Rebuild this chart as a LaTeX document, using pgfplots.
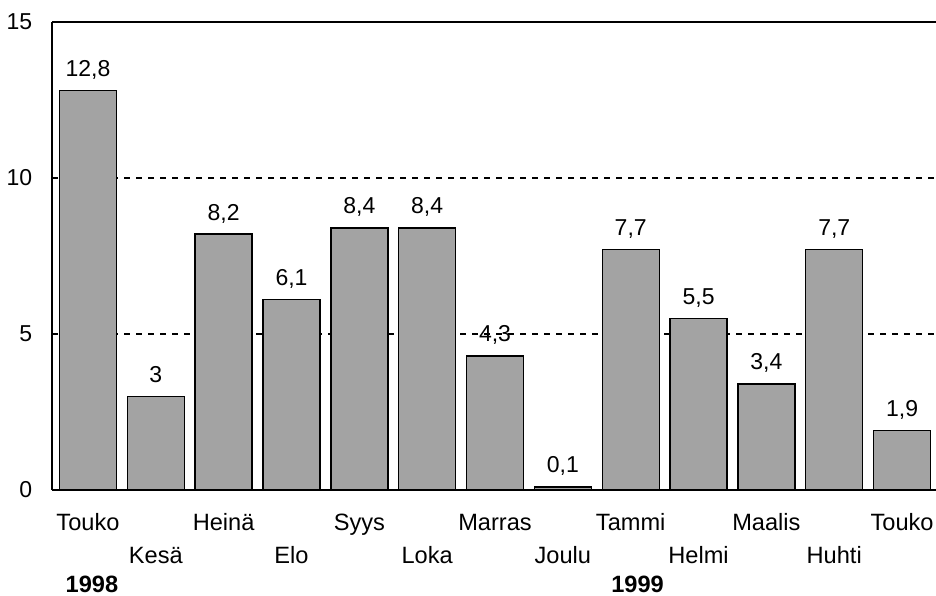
\documentclass[border=0pt]{standalone}
\usepackage{pgfplots}
\pgfplotsset{compat=1.18}
\usepackage{fontspec}
\setmainfont{Liberation Sans}
\usetikzlibrary{calc}
\definecolor{barfill}{HTML}{A3A3A3}
\begin{document}
\begin{tikzpicture}
\fontsize{11}{13}\selectfont
\begin{axis}[
  scale only axis,
  width=442pt, height=234pt,
  xmin=-0.53, xmax=12.5,
  ymin=0, ymax=15,
  ytick={0,5,10,15},
  xtick={0,...,12},
  xticklabels={Touko,\raisebox{-16.5pt}{Kesä},Heinä,\raisebox{-16.5pt}{Elo},Syys,\raisebox{-16.5pt}{Loka},Marras,\raisebox{-16.5pt}{Joulu},Tammi,\raisebox{-16.5pt}{Helmi},Maalis,\raisebox{-16.5pt}{Huhti},Touko},
  xticklabel style={anchor=base, yshift=-20pt, font=\fontsize{11.8}{13}\selectfont},
  yticklabel style={font=\fontsize{11.5}{13}\selectfont, xshift=-6pt},
  /pgf/number format/assume math mode=true,
  major tick length=0pt,
  axis x line=box,
  axis y line=left,
  axis line style={line width=1.2pt, -},
  ymajorgrids,
  grid style={dashed, black, line width=0.6pt},
  clip=false,
  ybar,
  bar width=28.5pt,
  nodes near coords,
  nodes near coords style={anchor=base, yshift=7pt, font=\fontsize{11.5}{13}\selectfont, /pgf/number format/use comma},
]
\addplot[fill=barfill, draw=black, line width=0.7pt] coordinates {
  (0,12.8) (1,3) (2,8.2) (3,6.1) (4,8.4) (5,8.4) (6,4.3) (7,0.1) (8,7.7) (9,5.5) (10,3.4) (11,7.7) (12,1.9)
};
\node[anchor=base west, font=\bfseries\fontsize{11.8}{13}\selectfont, xshift=3pt, yshift=-51pt] at (axis cs:-0.53,0) {1998};
\node[anchor=base west, font=\bfseries\fontsize{11.8}{13}\selectfont, yshift=-51pt] at (axis cs:7.6,0) {1999};
\end{axis}
\pgfresetboundingbox
\path[use as bounding box] ($(current axis.south west)+(-26pt,-52.5pt)$) rectangle ($(current axis.north east)+(0,11pt)$);
\end{tikzpicture}
\end{document}
